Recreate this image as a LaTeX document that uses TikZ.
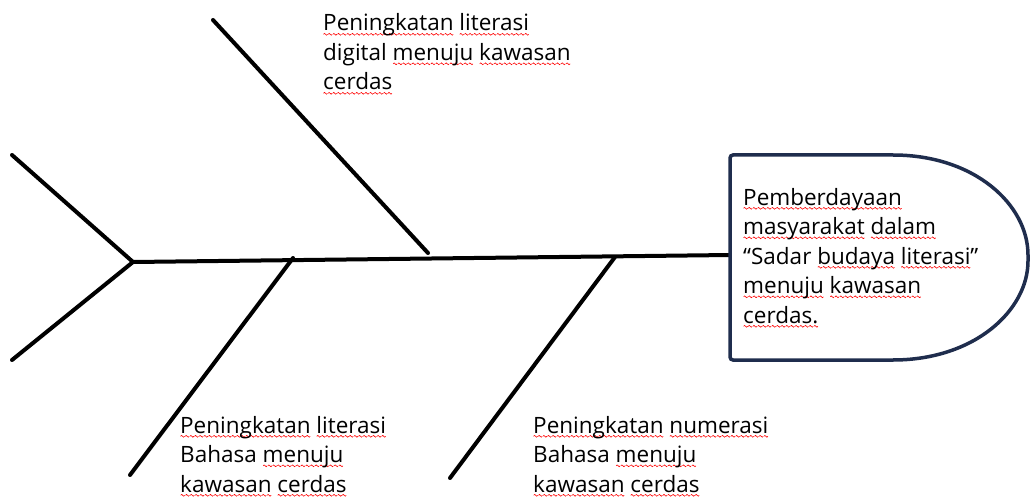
\documentclass[tikz,border=0pt]{standalone}
\usepackage{fontspec}
\setmainfont{Open Sans}
\usepackage{xcolor}
\definecolor{headblue}{HTML}{1F2D4D}
\newsavebox\wavebox
\newsavebox\wordbox
\sbox\wavebox{\tikz\draw[red, line width=0.6pt] (0,0) sin (1pt,0.9pt) cos (2pt,0) sin (3pt,-0.9pt) cos (4pt,0);}
\newcommand\sq[1]{\sbox\wordbox{#1}\rlap{\raisebox{-4.5pt}{\hbox to \wd\wordbox{\xleaders\copy\wavebox\hfil}}}\usebox\wordbox}

\begin{document}
\begin{tikzpicture}[
    x=1pt, y=-1pt,
    bone/.style={line width=4pt, line cap=round},
    txt/.style={
        anchor=base west,
        align=left,
        inner sep=0pt,
        font=\fontsize{22.5}{29.5}\selectfont
    },
    headline/.style={draw=headblue, line width=3.5pt, fill=white, rounded corners=3pt}
]
\useasboundingbox (0,0) rectangle (1030,497);

\coordinate (T) at (133,262);
\coordinate (H) at (730,255);
\coordinate (U) at (12,155);
\coordinate (L) at (12,360);
\coordinate (A1) at (213,20);
\coordinate (A2) at (428,253);
\coordinate (B1) at (130,475);
\coordinate (B2) at (293,258);
\coordinate (C1) at (450,478);
\coordinate (C2) at (615,257);

\draw [bone] (U) -- (T);
\draw [bone] (L) -- (T);
\draw [bone] (T) -- (H);
\draw [bone] (A1) -- (A2);
\draw [bone] (B1) -- (B2);
\draw [bone] (C1) -- (C2);

\draw [headline] (730,155) -- (890,155)
    .. controls (975,155) and (1028,205) .. (1028,258)
    .. controls (1028,310) and (975,360) .. (890,360)
    -- (730,360) -- cycle;

% anchor is the baseline of the last line
\node (digital) [txt] at (323,90) {\sq{Peningkatan} \sq{literasi}\\digital \sq{menuju} \sq{kawasan}\\\sq{cerdas}};
\node (bahasa) [txt] at (180,492) {\sq{Peningkatan} \sq{literasi}\\Bahasa \sq{menuju}\\\sq{kawasan} \sq{cerdas}};
\node (numerasi) [txt] at (533,492) {\sq{Peningkatan} \sq{numerasi}\\Bahasa \sq{menuju}\\\sq{kawasan} \sq{cerdas}};
\node (goal) [txt] at (743,323) {\sq{Pemberdayaan}\\\sq{masyarakat} \sq{dalam}\\“Sadar \sq{budaya} \sq{literasi}”\\\sq{menuju} \sq{kawasan}\\\sq{cerdas.}};

\end{tikzpicture}
\end{document}
